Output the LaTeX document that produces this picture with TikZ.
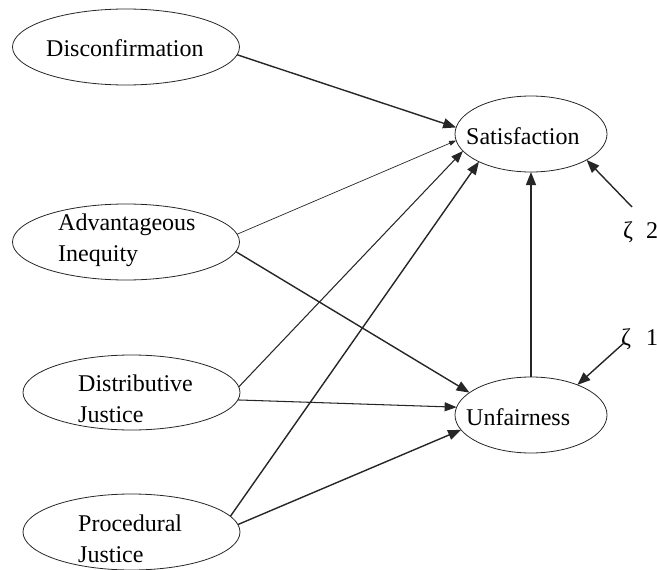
\documentclass[tikz,border=0pt]{standalone}
\usepackage{fontspec}
\setmainfont{Liberation Serif}
\usetikzlibrary{arrows.meta,shapes.geometric}

\tikzset{
  construct/.style={ellipse, draw=black!85, line width=0.8pt, inner sep=0pt, outer sep=0pt},
  lbl/.style={inner sep=0pt, align=left, font=\fontsize{24}{31}\selectfont},
  effect/.style={draw=black!85, line width=1.4pt, -{Triangle[length=13pt,width=10pt]}},
  mideffect/.style={draw=black!85, line width=1.05pt, -{Triangle[length=12pt,width=9pt]}},
  weakeffect/.style={draw=black!85, line width=0.7pt, -{Triangle[length=7pt,width=5pt]}},
}

\begin{document}
\begin{tikzpicture}[x=1pt, y=-1pt]

\useasboundingbox (0,0) rectangle (657,570);

% Helper: one construct: name, centre, width, height, label corner, label
\newcommand{\construct}[6]{%
  \node[construct, minimum width=#3pt, minimum height=#4pt] (#1) at (#2) {};
  \node[lbl, anchor=north west] (#1-t) at (#5) {#6};
}

% exogenous constructs (left)
\construct{dis}{126,47}{227}{76}{46,39}{Disconfirmation}
\construct{adv}{126,242}{227}{76}{58,214}{Advantageous\\Inequity}
\construct{dist}{131.5,392.5}{217}{75}{78,375}{Distributive\\Justice}
\construct{proc}{131.5,532}{217}{76}{78,515}{Procedural\\Justice}

% endogenous constructs (right)
\construct{sat}{531,134}{152}{76}{466,127}{Satisfaction}
\construct{unf}{531,415}{152}{76}{466,408}{Unfairness}

% disturbances
\node[lbl, anchor=base west] (z2) at (623,238) {ζ\hspace{13pt}2};
\node[lbl, anchor=base west] (z1) at (621,345) {ζ\hspace{15pt}1};
\coordinate (z2tail) at (632,207);
\coordinate (z1tail) at (625,342);

% paths
\draw[effect] (dis.-4) -- (sat.175);
\draw[weakeffect] (adv.4) -- (sat.185);
\draw[effect] (adv.-5) -- (unf.160);
\draw[mideffect] (dist.3) -- (sat.194);
\draw[mideffect] (dist.-4) -- (unf.174);
\draw[effect] (proc.9) -- (sat.208);
\draw[effect] (proc.4) -- (unf.192);
\draw[effect] (unf.north) -- (sat.south);
\draw[effect] (z2tail) -- (sat.-25);
\draw[effect] (z1tail) -- (unf.33);

\end{tikzpicture}
\end{document}
